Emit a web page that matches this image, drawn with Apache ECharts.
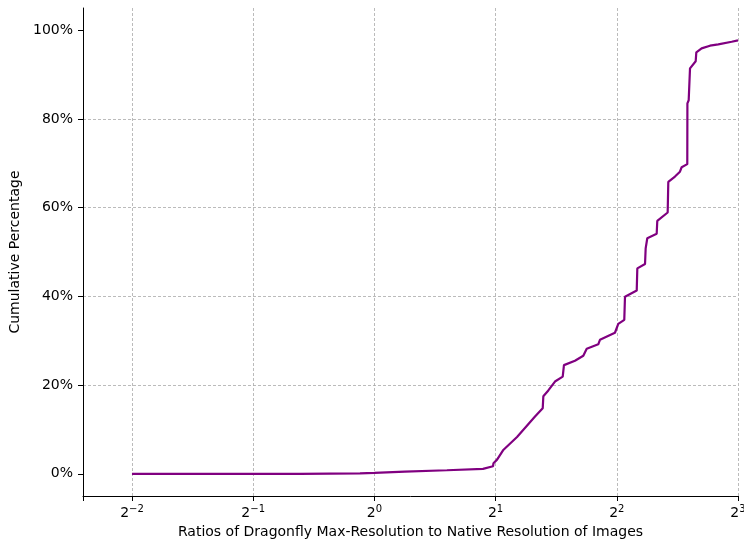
<!DOCTYPE html>
<html>
<head>
<meta charset="utf-8">
<script src="https://cdn.jsdelivr.net/npm/echarts@6/dist/echarts.min.js"></script>
<style>
  html, body { margin: 0; padding: 0; background: #fff; }
  #chart { width: 744px; height: 542px; }
</style>
</head>
<body>
<div id="chart"></div>
<script>
// ratio of max resolution to native resolution (x)
const ratioArr = [
  0.25, 0.653, 0.921, 1.0, 1.191, 1.514, 1.861, 1.871, 1.971, 1.976,
  2.017, 2.087, 2.261, 2.506, 2.619, 2.628, 2.704, 2.809, 2.936, 2.957,
  3.149, 3.303, 3.368, 3.598, 3.633, 3.958, 4.034, 4.175, 4.192, 4.483,
  4.498, 4.701, 4.718, 4.762, 5.025, 5.042, 5.351, 5.370, 5.579, 5.740,
  5.796, 5.986, 5.99, 6.034, 6.080, 6.281, 6.303, 6.498, 6.815, 7.146,
  7.215, 7.716, 8.0
];
// cumulative percentage (y)
const cumPctArr = [
  0, 0, 0.1, 0.2, 0.5, 0.8, 1.1, 1.5, 1.7, 2.4,
  3.2, 5.3, 8.3, 12.9, 14.8, 17.5, 18.8, 20.8, 21.9, 24.5,
  25.5, 26.6, 28.2, 29.2, 30.2, 31.8, 33.8, 34.7, 39.9, 41.3,
  46.3, 47.3, 50.8, 53.1, 54.1, 57.0, 58.9, 65.8, 67.0, 68.1,
  69.1, 69.8, 83.5, 84.2, 91.4, 93.0, 95.0, 95.9, 96.5, 96.8,
  97.2, 97.4, 97.7
];
// y tick positions
const yTickArr = [0, 20, 40, 60, 80, 100];

const FONT = 'DejaVu Sans';

const chart = echarts.init(document.getElementById('chart'), null, { renderer: 'canvas' });

//x轴是以2为底的对数轴，只给整数次幂写标签
function powLabel(value) {
  const lg = Math.log2(value);
  const e = Math.round(lg);
  if (Math.abs(lg - e) > 1e-6) return '';
  const sup = e < 0 ? '\u2212' + (-e) : String(e);
  return '{b|2}{s|' + sup + '}';
}

const option = {
  animation: false,
  grid: { left: 83, right: 6, top: 8, bottom: 46, containLabel: false, outerBoundsMode: 'none' },
  xAxis: {
    type: 'log',
    logBase: 2,
    min: Math.pow(2, -2.404),
    max: 8,
    name: 'Ratios of Dragonfly Max-Resolution to Native Resolution of Images',
    nameLocation: 'middle',
    nameGap: 29,
    nameTextStyle: { fontFamily: FONT, fontSize: 14, color: '#000' },
    axisLine: { onZero: false, lineStyle: { color: '#000', width: 1 } },
    axisTick: { length: 5, lineStyle: { color: '#000', width: 1 } },
    axisLabel: {
      margin: 8,
      formatter: powLabel,
      showMinLabel: true,
      showMaxLabel: true,
      rich: {
        b: { fontFamily: FONT, fontSize: 14, color: '#000' },
        s: { fontFamily: FONT, fontSize: 10, color: '#000', padding: [0, 0, 8, 0] }
      }
    },
    splitLine: {
      show: true,
      showMinLine: false,
      showMaxLine: true,
      lineStyle: { color: '#aaaaaa', width: 0.8, type: [3, 2] }
    }
  },
  yAxis: {
    type: 'value',
    min: -5,
    max: 105,
    name: 'Cumulative Percentage',
    nameLocation: 'middle',
    nameGap: 55,
    nameTextStyle: { fontFamily: FONT, fontSize: 14, color: '#000' },
    axisLine: { show: true, onZero: false, lineStyle: { color: '#000', width: 1 } },
    axisTick: { show: true, length: 5, customValues: yTickArr, lineStyle: { color: '#000', width: 1 } },
    axisLabel: {
      margin: 10,
      customValues: yTickArr,
      fontFamily: FONT,
      fontSize: 14,
      color: '#000',
      formatter: v => v + '%'
    },
    splitLine: {
      show: true,
      showMinLine: false,
      showMaxLine: false,
      lineStyle: { color: '#aaaaaa', width: 0.8, type: [3, 2] }
    }
  },
  series: [
    {
      type: 'line',
      showSymbol: false,
      symbol: 'none',
      data: ratioArr.map((r, i) => [r, cumPctArr[i]]),
      lineStyle: { color: '#800080', width: 2.2 },
      z: 3
    }
  ]
};

chart.setOption(option);
</script>
</body>
</html>
